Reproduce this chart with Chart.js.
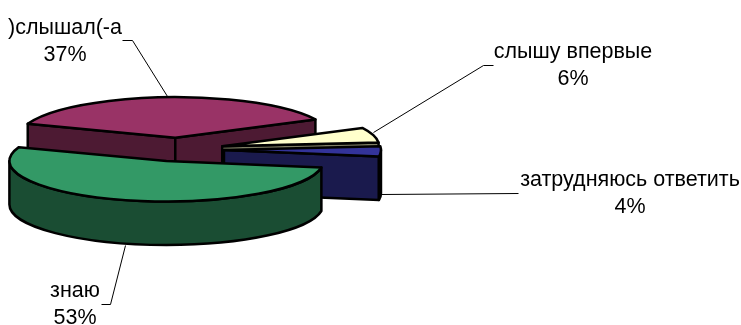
<!DOCTYPE html>
<html>
<head>
<meta charset="utf-8">
<script src="https://cdn.jsdelivr.net/npm/chart.js@4"></script>
<style>
  html, body { margin: 0; padding: 0; background: #fff; }
  #wrap { position: relative; width: 741px; height: 325px; }
</style>
</head>
<body>
<div id="wrap"><canvas id="pie"></canvas></div>
<script>
const categories = [')слышал(-а', 'слышу впервые', 'затрудняюсь ответить', 'знаю'];
const percents = [37, 6, 4, 53];
const topColors = ['#993366', '#ffffcc', '#333399', '#339966'];
const wallColors = ['#4d1a33', '#808066', '#1a1a4d', '#1a4d33'];

const SQUASH = 0.258;
const DEPTH = 43.5;
const EXPLODE = 46;
const CENTER_Y = 149.5;
const OUTLINE = 2.5;
const FONT = '21.5px "Liberation Sans", Arial, sans-serif';

// label centre x, first line y, leader line points
const labelSpots = [
  { x: 65, y: 28, leader: [[122, 40], [132, 40], [167, 96]] },
  { x: 573, y: 52, leader: [[493, 65], [483, 65], [373, 132]] },
  { x: 630, y: 180, leader: [[518, 193], [381, 194]] },
  { x: 75, y: 291, leader: [[101, 304], [110, 304], [125, 245]] }
];

function squashed(ctx, fn) {
  ctx.save();
  ctx.translate(0, CENTER_Y);
  ctx.scale(1, SQUASH);
  ctx.translate(0, -CENTER_Y);
  fn();
  ctx.restore();
}

function outline(ctx) {
  ctx.lineWidth = OUTLINE;
  ctx.strokeStyle = '#000';
  ctx.lineJoin = 'round';
  ctx.stroke();
}

function drawSlice(ctx, arc, color) {
  const { x, y, startAngle: a0, endAngle: a1, outerRadius: r } = arc.getProps(['x', 'y', 'startAngle', 'endAngle', 'outerRadius']);
  const mid = (a0 + a1) / 2;
  const cx = x + Math.cos(mid) * EXPLODE;
  const cy = y + Math.sin(mid) * EXPLODE;
  const px = a => cx + Math.cos(a) * r;
  const py = a => cy + Math.sin(a) * r;
  const drop = DEPTH / SQUASH;

  // flat side faces, only the ones turned to the viewer
  [[a0, a0 - Math.PI / 2], [a1, a1 + Math.PI / 2]].forEach(([a, normal]) => {
    if (Math.sin(normal) <= 0) return;
    ctx.beginPath();
    squashed(ctx, () => {
      ctx.moveTo(cx, cy);
      ctx.lineTo(px(a), py(a));
      ctx.lineTo(px(a), py(a) + drop);
      ctx.lineTo(cx, cy + drop);
      ctx.closePath();
    });
    ctx.fillStyle = color;
    ctx.fill();
    outline(ctx);
  });

  // outer wall, front half only
  for (let k = -1; k <= 2; k++) {
    const from = Math.max(a0, k * 2 * Math.PI);
    const to = Math.min(a1, k * 2 * Math.PI + Math.PI);
    if (to <= from) continue;
    ctx.beginPath();
    squashed(ctx, () => {
      ctx.arc(cx, cy, r, from, to);
      ctx.lineTo(px(to), py(to) + drop);
      ctx.arc(cx, cy + drop, r, to, from, true);
      ctx.closePath();
    });
    ctx.fillStyle = color;
    ctx.fill();
    outline(ctx);
  }

  // top face comes from the library's own arc element
  squashed(ctx, () => {
    ctx.save();
    ctx.translate(Math.cos(mid) * EXPLODE, Math.sin(mid) * EXPLODE);
    arc.draw(ctx);
    ctx.restore();
  });
  ctx.beginPath();
  squashed(ctx, () => {
    ctx.moveTo(cx, cy);
    ctx.arc(cx, cy, r, a0, a1);
    ctx.closePath();
  });
  outline(ctx);
}

const pie3d = {
  id: 'pie3d',
  beforeDatasetDraw(chart, args) {
    const ctx = chart.ctx;
    args.meta.data.forEach((arc, i) => drawSlice(ctx, arc, wallColors[i]));
    return false;
  },
  afterDraw(chart) {
    const ctx = chart.ctx;
    ctx.save();
    ctx.lineWidth = 1;
    ctx.strokeStyle = '#000';
    labelSpots.forEach(spot => {
      ctx.beginPath();
      spot.leader.forEach(([x, y], i) => (i ? ctx.lineTo(x + 0.5, y + 0.5) : ctx.moveTo(x + 0.5, y + 0.5)));
      ctx.stroke();
    });
    ctx.fillStyle = '#000';
    ctx.font = FONT;
    ctx.textAlign = 'center';
    ctx.textBaseline = 'middle';
    labelSpots.forEach((spot, i) => {
      ctx.fillText(categories[i], spot.x, spot.y);
      ctx.fillText(percents[i] + '%', spot.x, spot.y + 27);
    });
    ctx.restore();
  }
};

new Chart(document.getElementById('pie'), {
  type: 'pie',
  data: {
    labels: categories,
    datasets: [{
      data: percents,
      backgroundColor: topColors,
      borderWidth: 0
    }]
  },
  options: {
    responsive: true,
    maintainAspectRatio: false,
    animation: false,
    events: [],
    rotation: -70,
    radius: 157,
    layout: { padding: { left: 0, right: 385, top: 0, bottom: 26 } },
    plugins: { legend: { display: false }, tooltip: { enabled: false } }
  },
  plugins: [pie3d]
});
</script>
</body>
</html>
